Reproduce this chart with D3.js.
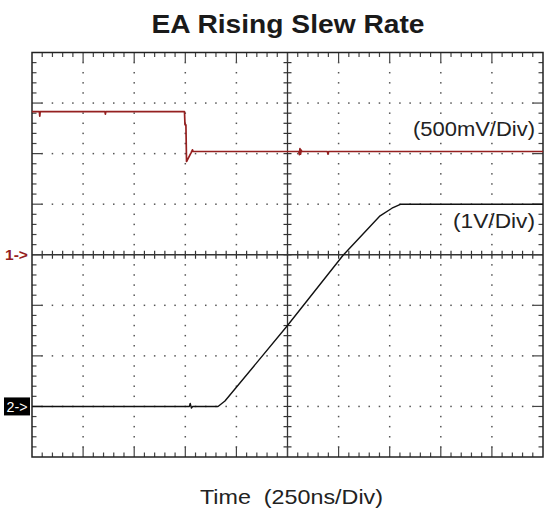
<!DOCTYPE html>
<html>
<head>
<meta charset="utf-8">
<script src="https://cdn.jsdelivr.net/npm/d3@7"></script>
<style>
  html, body { margin: 0; padding: 0; background: #fff; }
  svg { display: block; }
  text { white-space: pre; }
</style>
</head>
<body>
<svg id="chart" width="544" height="514"></svg>
<script>
// Scope capture: two channels against time, 250 ns per division
const titleText = "EA Rising Slew Rate";
const xAxisLabel = "Time  (250ns/Div)";
const ch1Scale = "(500mV/Div)";
const ch2Scale = "(1V/Div)";
const ch1Marker = "1->";
const ch2Marker = "2->";

// Channel 1 (500 mV/div), time in ns, value in V
const ch1Time = [0, 36, 38, 40, 357, 359, 361, 746, 748.5, 753, 756, 768, 778, 785, 788,
                 1305, 1308, 1311, 1314, 1317, 1320, 1445, 1448, 1451, 2500];
const ch1Volt = [1.416, 1.416, 1.37, 1.416, 1.416, 1.39, 1.416, 1.416, 1.285, 1.285, 0.922, 0.968, 1.008, 1.038, 1.021,
                 1.021, 0.99, 1.05, 0.995, 1.035, 1.021, 1.021, 0.995, 1.021, 1.021];

// Channel 2 (1 V/div), time in ns, value in V
const ch2Time = [0, 770, 774, 780, 786, 910, 944, 1248, 1522, 1703, 1761, 1805, 2500];
const ch2Volt = [0, 0, 0.06, -0.03, 0, 0, 0.107, 1.59, 2.99, 3.77, 3.92, 4.0, 4.0];

const plotLeft = 32, plotRight = 543, plotTop = 52.5, plotBottom = 457;
const xDivs = 10, yDivs = 8, minorPerDiv = 5;

const svg = d3.select("#chart");

const x = d3.scaleLinear().domain([0, 2500]).range([plotLeft, plotRight]);
const gx = d3.scaleLinear().domain([0, xDivs]).range([plotLeft, plotRight]);
const gy = d3.scaleLinear().domain([0, yDivs]).range([plotBottom, plotTop]);
// channel 1 reference at the centre line, channel 2 three divisions below it
const y1 = d3.scaleLinear().domain([-2, 2]).range([plotBottom, plotTop]);
const y2 = d3.scaleLinear().domain([-1, 7]).range([plotBottom, plotTop]);

const grid = svg.append("g");
const minorX = d3.range(0, xDivs * minorPerDiv + 1).map(i => i / minorPerDiv);
const minorY = d3.range(0, yDivs * minorPerDiv + 1).map(i => i / minorPerDiv);

// dotted graticule: dots on the division lines at every minor step
const dots = [];
for (let i = 1; i < xDivs; i++) {
  if (i === xDivs / 2) continue;
  minorY.forEach(v => { if (v > 0 && v < yDivs) dots.push([gx(i), gy(v)]); });
}
for (let j = 1; j < yDivs; j++) {
  if (j === yDivs / 2) continue;
  minorX.forEach(v => { if (v > 0 && v < xDivs && !Number.isInteger(v)) dots.push([gx(v), gy(j)]); });
}
grid.selectAll("rect.dot").data(dots).join("rect")
  .attr("class", "dot")
  .attr("x", d => d[0] - 0.75).attr("y", d => d[1] - 0.75)
  .attr("width", 1.5).attr("height", 1.5)
  .attr("fill", "#555");

// centre cross with minor ticks
const cx = gx(xDivs / 2), cy = gy(yDivs / 2);
grid.append("line").attr("x1", plotLeft).attr("x2", plotRight).attr("y1", cy).attr("y2", cy)
  .attr("stroke", "#333").attr("stroke-width", 1.3);
grid.append("line").attr("x1", cx).attr("x2", cx).attr("y1", plotTop).attr("y2", plotBottom)
  .attr("stroke", "#333").attr("stroke-width", 1.3);
grid.selectAll("line.cxt").data(minorX.filter(v => v > 0 && v < xDivs)).join("line")
  .attr("class", "cxt")
  .attr("x1", d => gx(d)).attr("x2", d => gx(d))
  .attr("y1", cy - 4).attr("y2", cy + 4)
  .attr("stroke", "#333").attr("stroke-width", 1.2);
grid.selectAll("line.cyt").data(minorY.filter(v => v > 0 && v < yDivs)).join("line")
  .attr("class", "cyt")
  .attr("x1", cx - 4).attr("x2", cx + 4)
  .attr("y1", d => gy(d)).attr("y2", d => gy(d))
  .attr("stroke", "#333").attr("stroke-width", 1.2);

// border ticks pointing inward
const tickLen = v => Number.isInteger(v) ? 10 : 4.5;
const bx = minorX.filter(v => v > 0 && v < xDivs);
const by = minorY.filter(v => v > 0 && v < yDivs);
grid.selectAll("line.tt").data(bx).join("line").attr("class", "tt")
  .attr("x1", d => gx(d)).attr("x2", d => gx(d))
  .attr("y1", plotTop).attr("y2", d => plotTop + tickLen(d))
  .attr("stroke", "#444").attr("stroke-width", 1.2);
grid.selectAll("line.bt").data(bx).join("line").attr("class", "bt")
  .attr("x1", d => gx(d)).attr("x2", d => gx(d))
  .attr("y1", plotBottom).attr("y2", d => plotBottom - tickLen(d))
  .attr("stroke", "#444").attr("stroke-width", 1.2);
grid.selectAll("line.lt").data(by).join("line").attr("class", "lt")
  .attr("x1", plotLeft).attr("x2", d => plotLeft + tickLen(d))
  .attr("y1", d => gy(d)).attr("y2", d => gy(d))
  .attr("stroke", "#444").attr("stroke-width", 1.2);
grid.selectAll("line.rt").data(by).join("line").attr("class", "rt")
  .attr("x1", plotRight).attr("x2", d => plotRight - tickLen(d))
  .attr("y1", d => gy(d)).attr("y2", d => gy(d))
  .attr("stroke", "#444").attr("stroke-width", 1.2);

grid.append("rect")
  .attr("x", plotLeft).attr("y", plotTop)
  .attr("width", plotRight - plotLeft).attr("height", plotBottom - plotTop)
  .attr("fill", "none").attr("stroke", "#222").attr("stroke-width", 1.5);

// traces
const line1 = d3.line().x((d, i) => x(ch1Time[i])).y((d, i) => y1(ch1Volt[i]));
const line2 = d3.line().x((d, i) => x(ch2Time[i])).y((d, i) => y2(ch2Volt[i]));

svg.append("path").datum(ch1Time).attr("d", line1)
  .attr("fill", "none").attr("stroke", "#952020").attr("stroke-width", 1.7)
  .attr("stroke-linejoin", "round");
svg.append("path").datum(ch2Time).attr("d", line2)
  .attr("fill", "none").attr("stroke", "#111").attr("stroke-width", 1.4)
  .attr("stroke-linejoin", "round");

// scale labels on the right
svg.append("text").text(ch1Scale)
  .attr("x", 413).attr("y", 136)
  .attr("textLength", 122).attr("lengthAdjust", "spacingAndGlyphs")
  .attr("font-family", "Liberation Sans, Arial, sans-serif").attr("font-size", 20)
  .attr("fill", "#222");
svg.append("text").text(ch2Scale)
  .attr("x", 453).attr("y", 228)
  .attr("textLength", 82).attr("lengthAdjust", "spacingAndGlyphs")
  .attr("font-family", "Liberation Sans, Arial, sans-serif").attr("font-size", 20)
  .attr("fill", "#222");

// channel reference markers
svg.append("text").text(ch1Marker)
  .attr("x", 5).attr("y", y1(0) + 5)
  .attr("textLength", 23).attr("lengthAdjust", "spacingAndGlyphs")
  .attr("font-family", "Liberation Sans, Arial, sans-serif").attr("font-size", 15)
  .attr("font-weight", "bold").attr("fill", "#952020");
svg.append("rect")
  .attr("x", 4).attr("y", y2(0) - 9).attr("width", 26).attr("height", 18)
  .attr("fill", "#000");
svg.append("text").text(ch2Marker)
  .attr("x", 6.5).attr("y", y2(0) + 5.5)
  .attr("textLength", 21).attr("lengthAdjust", "spacingAndGlyphs")
  .attr("font-family", "Liberation Sans, Arial, sans-serif").attr("font-size", 15)
  .attr("fill", "#fff");

// title and time axis label
svg.append("text").text(titleText)
  .attr("x", 151.5).attr("y", 33)
  .attr("textLength", 273).attr("lengthAdjust", "spacingAndGlyphs")
  .attr("font-family", "Liberation Sans, Arial, sans-serif").attr("font-size", 26)
  .attr("font-weight", "bold").attr("fill", "#1a1a1a");
svg.append("text").text(xAxisLabel)
  .attr("x", 200).attr("y", 504)
  .attr("textLength", 183).attr("lengthAdjust", "spacingAndGlyphs")
  .attr("font-family", "Liberation Sans, Arial, sans-serif").attr("font-size", 21)
  .attr("fill", "#222");
</script>
</body>
</html>
